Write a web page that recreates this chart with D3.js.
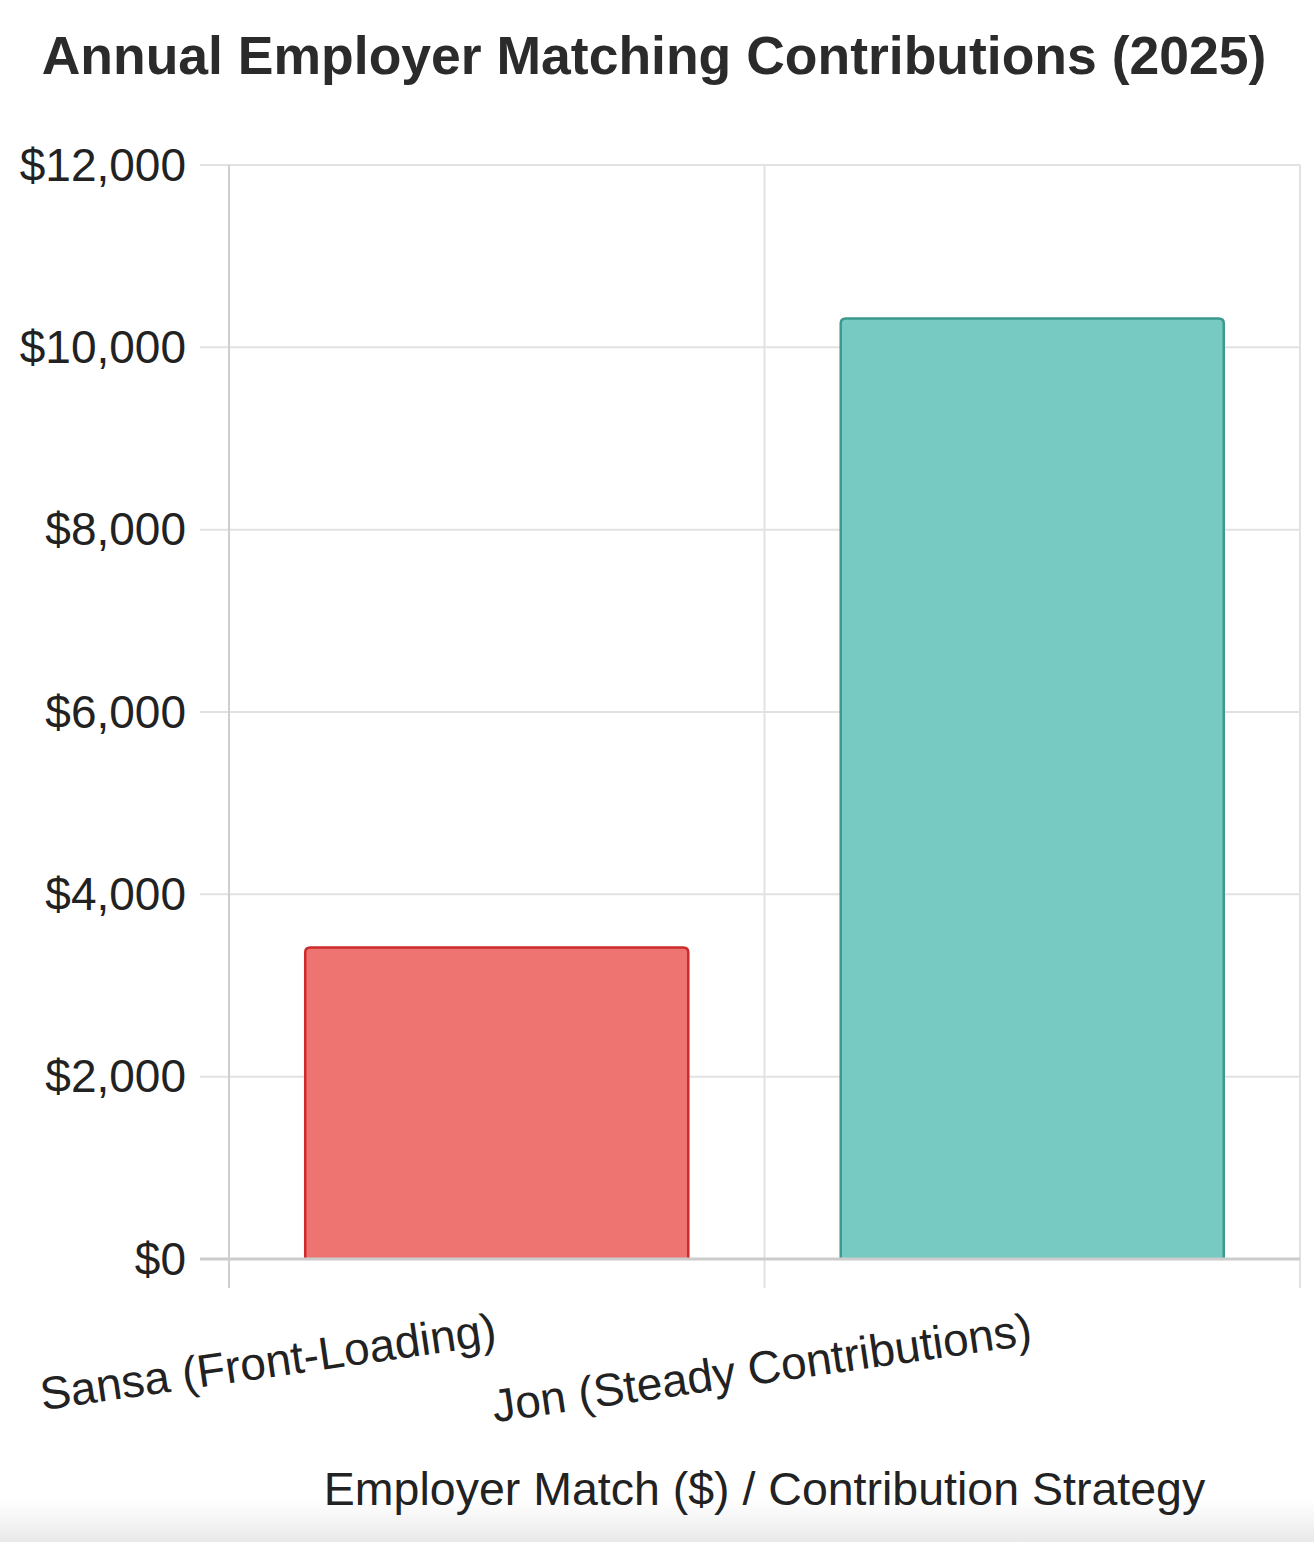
<!DOCTYPE html>
<html>
<head>
<meta charset="utf-8">
<script src="https://cdn.jsdelivr.net/npm/d3@7"></script>
<style>
  html, body { margin: 0; padding: 0; background: #fff; }
  svg { display: block; font-family: "Liberation Sans", Arial, Helvetica, sans-serif; }
</style>
</head>
<body>
<div id="chart"></div>
<script>
// data
const categories = ["Sansa (Front-Loading)", "Jon (Steady Contributions)"];
const matchValues = [3430, 10330];
const yTicks = [0, 2000, 4000, 6000, 8000, 10000, 12000];
const barFills = ["#ee7471", "#76cac1"];
const barStrokes = ["#cc2b2b", "#3d998e"];

const width = 1314,
  height = 1542,
  marginLeft = 229,
  marginRight = 14,
  plotTop = 165,
  plotBottom = 1259,
  tickLen = 29;

const svg = d3
  .select("#chart")
  .append("svg")
  .attr("width", width)
  .attr("height", height)
  .attr("viewBox", [0, 0, width, height]);

// faint shadow at the bottom of the page
const grad = svg.append("defs").append("linearGradient")
  .attr("id", "bottomShade")
  .attr("x1", 0).attr("x2", 0).attr("y1", 0).attr("y2", 1);
grad.append("stop").attr("offset", "0%").attr("stop-color", "#ffffff");
grad.append("stop").attr("offset", "100%").attr("stop-color", "#e9e9e9");
svg.append("rect")
  .attr("x", 0).attr("y", 1500)
  .attr("width", width).attr("height", 42)
  .attr("fill", "url(#bottomShade)");

// scales
const xCat = d3.scaleBand(categories, [marginLeft, width - marginRight]);
const barWidth = xCat.bandwidth() * 0.72;
const y = d3.scaleLinear([0, 12000], [plotBottom, plotTop]);

// horizontal grid + y ticks
svg.append("g")
  .selectAll("line")
  .data(yTicks.filter((d) => d !== 0))
  .join("line")
  .attr("x1", marginLeft - tickLen)
  .attr("x2", width - marginRight)
  .attr("y1", (d) => y(d))
  .attr("y2", (d) => y(d))
  .attr("stroke", "#e2e2e2")
  .attr("stroke-width", 2);

// vertical grid lines on category boundaries
const xEdges = categories.map((c) => xCat(c)).concat([width - marginRight]);
svg.append("g")
  .selectAll("line")
  .data(xEdges)
  .join("line")
  .attr("x1", (d) => d)
  .attr("x2", (d) => d)
  .attr("y1", plotTop)
  .attr("y2", plotBottom + tickLen)
  .attr("stroke", (d, i) => (i === 0 ? "#cfcfcf" : "#e2e2e2"))
  .attr("stroke-width", 2);

// y labels
svg.append("g")
  .selectAll("text")
  .data(yTicks)
  .join("text")
  .attr("x", 186)
  .attr("y", (d) => y(d))
  .attr("dy", "0.34em")
  .attr("text-anchor", "end")
  .attr("font-size", 46)
  .attr("fill", "#222")
  .text((d) => "$" + d3.format(",")(d));

// bars: rounded top, border on top and sides only
const r = 5, sw = 2.5;
const bars = svg.append("g")
  .selectAll("g")
  .data(categories)
  .join("g");

function barPath(i, closed) {
  const x0 = xCat(categories[i]) + (xCat.bandwidth() - barWidth) / 2 + sw / 2;
  const x1 = x0 + barWidth - sw;
  const yt = y(matchValues[i]) + sw / 2;
  const yb = y(0);
  let p = `M${x0},${yb} L${x0},${yt + r} Q${x0},${yt} ${x0 + r},${yt} L${x1 - r},${yt} Q${x1},${yt} ${x1},${yt + r} L${x1},${yb}`;
  return closed ? p + " Z" : p;
}

bars.append("path")
  .attr("d", (d, i) => barPath(i, true))
  .attr("fill", (d, i) => barFills[i]);
bars.append("path")
  .attr("d", (d, i) => barPath(i, false))
  .attr("fill", "none")
  .attr("stroke", (d, i) => barStrokes[i])
  .attr("stroke-width", sw);

// zero line
svg.append("line")
  .attr("x1", marginLeft - tickLen)
  .attr("x2", width - marginRight)
  .attr("y1", y(0))
  .attr("y2", y(0))
  .attr("stroke", "#cccccc")
  .attr("stroke-width", 3);

// x labels, rotated
svg.append("g")
  .selectAll("text")
  .data(categories)
  .join("text")
  .attr("transform", (d) => `translate(${xCat(d) + xCat.bandwidth() / 2 - 1},${plotBottom + 70}) rotate(-8.2)`)
  .attr("text-anchor", "end")
  .attr("dy", "0.34em")
  .attr("font-size", 46)
  .attr("fill", "#222")
  .text((d) => d);

// axis title
svg.append("text")
  .attr("x", (marginLeft + width - marginRight) / 2)
  .attr("y", 1505)
  .attr("text-anchor", "middle")
  .attr("font-size", 46.5)
  .attr("fill", "#222")
  .text("Employer Match ($) / Contribution Strategy");

// chart title
svg.append("text")
  .attr("x", 654)
  .attr("y", 74)
  .attr("text-anchor", "middle")
  .attr("font-size", 53.5)
  .attr("font-weight", "bold")
  .attr("fill", "#2b2b2b")
  .text("Annual Employer Matching Contributions (2025)");
</script>
</body>
</html>
